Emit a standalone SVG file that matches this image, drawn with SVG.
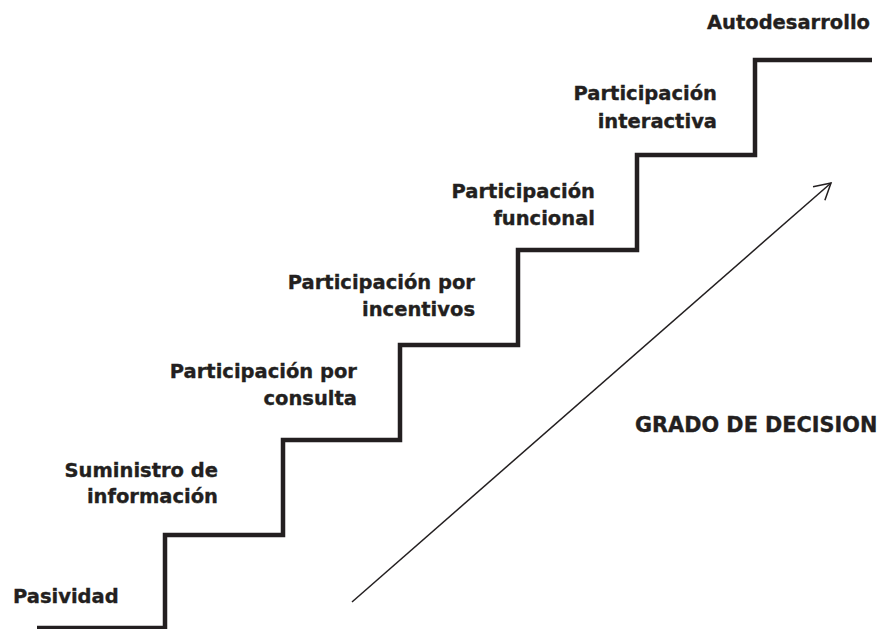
<svg xmlns="http://www.w3.org/2000/svg" width="883" height="629" viewBox="0 0 883 629">
  <style>
    .lbl { font-family: "DejaVu Sans", Verdana, sans-serif; font-weight: bold; font-size: 19.5px; fill: #231f20; stroke: #231f20; stroke-width: 0.35; }
    .r { text-anchor: end; }
    .stair { fill: none; stroke: #231f20; stroke-width: 4.5; stroke-linejoin: miter; stroke-linecap: butt; }
    .arrow { fill: none; stroke: #231f20; stroke-width: 1.5; }
  </style>
  <defs>
    <marker id="open" markerUnits="userSpaceOnUse" markerWidth="40" markerHeight="40" viewBox="-20 -20 40 40" refX="0" refY="0" orient="auto">
      <path d="M-16,-9 L0,0 L-16,9" fill="none" stroke="#231f20" stroke-width="1.5"/>
    </marker>
  </defs>
  <rect width="883" height="629" fill="#ffffff"/>
  <g id="connectors">
    <path id="staircase" class="stair" d="M37,628 H165 V535 H283 V440 H400 V345 H518 V250 H637 V155 H755 V60 H872"/>
    <line id="arrow-decision" class="arrow" x1="352" y1="602" x2="831" y2="183" marker-end="url(#open)"/>
  </g>
  <g id="pasividad">
    <text class="lbl" x="13" y="603">Pasividad</text>
  </g>
  <g id="suministro">
    <text class="lbl r" x="218" y="477">Suministro de</text>
    <text class="lbl r" x="218" y="503">información</text>
  </g>
  <g id="consulta">
    <text class="lbl r" x="357" y="378">Participación por</text>
    <text class="lbl r" x="357" y="405">consulta</text>
  </g>
  <g id="incentivos">
    <text class="lbl r" x="475" y="289">Participación por</text>
    <text class="lbl r" x="475" y="316">incentivos</text>
  </g>
  <g id="funcional">
    <text class="lbl r" x="595" y="198">Participación</text>
    <text class="lbl r" x="595" y="225">funcional</text>
  </g>
  <g id="interactiva">
    <text class="lbl r" x="717" y="100">Participación</text>
    <text class="lbl r" x="717" y="128">interactiva</text>
  </g>
  <g id="autodesarrollo">
    <text class="lbl r" x="870" y="29">Autodesarrollo</text>
  </g>
  <g id="grado">
    <text class="lbl" x="635" y="432" style="font-size:20.8px">GRADO DE DECISION</text>
  </g>
</svg>
